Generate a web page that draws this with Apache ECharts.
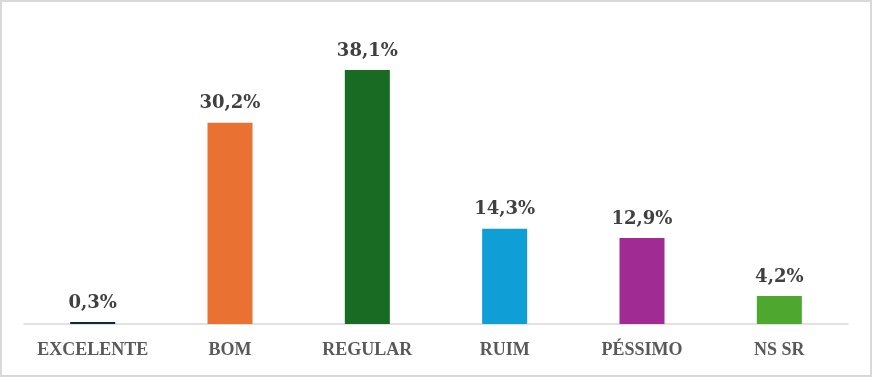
<!DOCTYPE html>
<html>
<head>
<meta charset="utf-8">
<script src="https://cdn.jsdelivr.net/npm/echarts@6/dist/echarts.min.js"></script>
<style>
  html, body { margin: 0; padding: 0; background: #fff; }
  #chart { width: 872px; height: 377px; }
</style>
</head>
<body>
<div id="chart"></div>
<script>
const categories = ["EXCELENTE", "BOM", "REGULAR", "RUIM", "PÉSSIMO", "NS SR"];
const values = [0.3, 30.2, 38.1, 14.3, 12.9, 4.2];
const barColors = ["#0E2841", "#E97132", "#196B24", "#0F9ED5", "#A02B93", "#4EA72E"];

const chart = echarts.init(document.getElementById('chart'));
const serif = "Liberation Serif, DejaVu Serif, serif";

chart.setOption({
    animation: false,
    graphic: [{
        type: 'rect',
        shape: { x: 1, y: 1, width: 870, height: 375 },
        style: { fill: 'none', stroke: '#d9d9d9', lineWidth: 2 },
        silent: true
    }],
    grid: { left: 24, right: 24, top: 24, bottom: 53, containLabel: false },
    xAxis: {
        type: 'category',
        data: categories,
        axisLine: { lineStyle: { color: '#d9d9d9', width: 1.5 } },
        axisTick: { show: false },
        axisLabel: {
            interval: 0,
            color: '#595959',
            fontFamily: serif,
            fontWeight: 'bold',
            fontSize: 18,
            margin: 17
        }
    },
    yAxis: {
        type: 'value',
        min: 0,
        max: 45,
        show: false,
        splitLine: { show: false }
    },
    series: [{
        type: 'bar',
        barWidth: 45,
        data: values.map((v, i) => ({ value: v, itemStyle: { color: barColors[i] } })),
        label: {
            show: true,
            position: 'top',
            distance: 10,
            color: '#404040',
            fontFamily: "DejaVu Serif, serif",
            fontWeight: 'bold',
            fontSize: 18,
            formatter: p => p.value.toFixed(1).replace('.', ',') + '%'
        }
    }]
});
</script>
</body>
</html>
